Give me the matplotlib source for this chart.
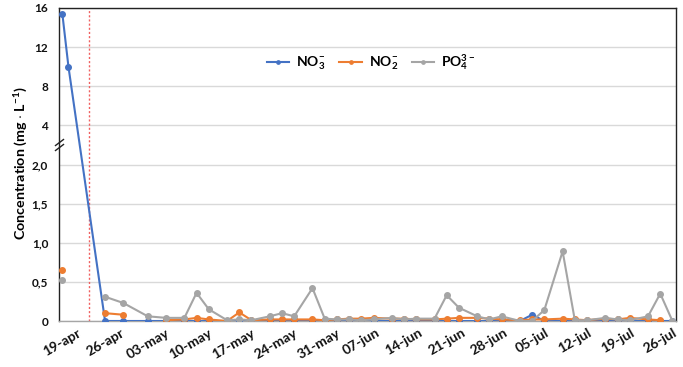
import numpy as np
import pandas as pd
import matplotlib
matplotlib.use("Agg")
import matplotlib.pyplot as plt
from matplotlib.lines import Line2D

plt.rcParams['font.family'] = ['Lato', 'DejaVu Sans']
plt.rcParams['font.weight'] = 'bold'
plt.rcParams['mathtext.fontset'] = 'custom'
plt.rcParams['mathtext.rm'] = 'Lato:bold'
plt.rcParams['mathtext.bf'] = 'Lato:bold'
plt.rcParams['mathtext.it'] = 'Lato:bold'
plt.rcParams['mathtext.default'] = 'bf'

# ---------------- data ----------------
dates = ["2021-04-19", "2021-04-20", "2021-04-26", "2021-04-29", "2021-05-03", "2021-05-06",
         "2021-05-09", "2021-05-11", "2021-05-13", "2021-05-16", "2021-05-18", "2021-05-20",
         "2021-05-23", "2021-05-25", "2021-05-27", "2021-05-30", "2021-06-01", "2021-06-03",
         "2021-06-05", "2021-06-07", "2021-06-09", "2021-06-12", "2021-06-14", "2021-06-16",
         "2021-06-19", "2021-06-21", "2021-06-23", "2021-06-26", "2021-06-28", "2021-06-30",
         "2021-07-03", "2021-07-05", "2021-07-07", "2021-07-10", "2021-07-12", "2021-07-14",
         "2021-07-17", "2021-07-19", "2021-07-21", "2021-07-24", "2021-07-26", "2021-07-28"]

no3 = [15.4, 10.0, 0, 0, 0, 0,
       0, 0, 0, 0, 0, 0,
       0, 0, 0, 0, 0, 0,
       0, 0, 0, 0, 0, 0,
       0, 0, 0, 0, 0, 0,
       0, 0.08, 0, 0, 0, 0,
       0, 0, 0, 0, 0, 0]

no2 = [0.65, np.nan, 0.10, 0.08, np.nan, 0.01,
       0.02, 0.04, 0.02, 0.0, 0.11, 0.01,
       0.02, 0.02, 0.02, 0.02, 0.01, 0.02,
       0.03, 0.03, 0.04, 0.03, 0.03, 0.02,
       0.02, 0.03, 0.04, 0.04, 0.03, 0.02,
       0.01, 0.02, 0.02, 0.03, 0.02, 0.01,
       0.03, 0.02, 0.04, 0.02, 0.01, np.nan]

po4 = [0.52, np.nan, 0.31, 0.23, 0.06, 0.04,
       0.04, 0.36, 0.15, 0.01, 0.02, 0.01,
       0.06, 0.10, 0.06, 0.42, 0.03, 0.02,
       0.02, 0.01, 0.02, 0.04, 0.02, 0.03,
       0.03, 0.33, 0.17, 0.06, 0.02, 0.06,
       0.0, 0.0, 0.14, 0.89, 0.01, 0.01,
       0.04, 0.02, 0.01, 0.06, 0.35, 0.0]

series_labels = [r'NO$_3^{-}$', r'NO$_2^{-}$', r'PO$_4^{3-}$']
colors = ['#4472C4', '#ED7D31', '#A5A5A5']

y_tick_values = [0, 0.5, 1, 1.5, 2, 4, 8, 12, 16]
y_tick_labels = ['0', '0,5', '1,0', '1,5', '2,0', '4', '8', '12', '16']

x_tick_dates = ["2021-04-19", "2021-04-26", "2021-05-03", "2021-05-10", "2021-05-17",
                "2021-05-24", "2021-05-31", "2021-06-07", "2021-06-14", "2021-06-21",
                "2021-06-28", "2021-07-05", "2021-07-12", "2021-07-19", "2021-07-26"]
x_tick_labels = ['19-apr', '26-apr', '03-may', '10-may', '17-may', '24-may', '31-may',
                 '07-jun', '14-jun', '21-jun', '28-jun', '05-jul', '12-jul', '19-jul', '26-jul']

event_date = "2021-04-23 10:00"

# ---------------- figure ----------------
fig = plt.figure(figsize=(6.83, 3.67), dpi=100)
ax = fig.add_axes([59.3 / 683, 46 / 367, 616.2 / 683, 313 / 367])

tv = np.array(y_tick_values, dtype=float)
tp = np.arange(len(tv), dtype=float)


def fwd(v):
    return np.interp(v, tv, tp)


def inv(p):
    return np.interp(p, tp, tv)


ax.set_yscale('function', functions=(fwd, inv))

x = pd.to_datetime(dates)
for vals, lab, col in zip([no3, no2, po4], series_labels, colors):
    ax.plot(x, vals, color=col, lw=1.5, marker='o', ms=4.0, label=lab, zorder=3)

ax.axvline(pd.Timestamp(event_date), color='#F06060', lw=1.0, ls=(0, (1.5, 1.5)), zorder=2)

ax.set_ylim(0, 16)
ax.set_yticks(y_tick_values)
ax.set_yticklabels(y_tick_labels)
ax.yaxis.grid(True, color='#D9D9D9', lw=1)
ax.set_axisbelow(True)

x0 = pd.Timestamp(dates[0]) - pd.Timedelta(hours=12)
x1 = pd.Timestamp(dates[-1]) + pd.Timedelta(hours=12)
ax.set_xlim(x0, x1)
ax.set_xticks(pd.to_datetime(x_tick_dates))
ax.set_xticklabels(x_tick_labels, rotation=30, ha='center')

ax.tick_params(axis='both', length=0, colors='#111111')
ax.tick_params(axis='x', pad=4, labelsize=10)
ax.tick_params(axis='y', pad=8, labelsize=8.5)
for t in ax.get_xticklabels() + ax.get_yticklabels():
    t.set_fontweight('bold')

for s in ['left', 'top', 'right']:
    ax.spines[s].set_color('#222222')
    ax.spines[s].set_linewidth(1)
ax.spines['bottom'].set_color('#A6A6A6')
ax.spines['bottom'].set_linewidth(1)

fig.text(21 / 683, 1 - 163 / 367, r'Concentration (mg $\cdot$ L$^{-1}$)', rotation=90,
         ha='center', va='center', fontsize=10.3, fontweight='bold')

leg = ax.legend(loc='center', bbox_to_anchor=(0.506, 0.827), ncol=3, frameon=False,
                fontsize=10, handlelength=1.6, columnspacing=1.0, handletextpad=0.5,
                markerscale=0.6)

# axis break marks "//" on the left spine
bx, by = 59.5, 367 - 145
for dy in (-2.5, 2.5):
    fig.add_artist(Line2D([bx - 4, bx + 4], [by + dy - 3, by + dy + 3], transform=None,
                          color='#222222', lw=1))

fig.savefig('out.png', dpi=100)
